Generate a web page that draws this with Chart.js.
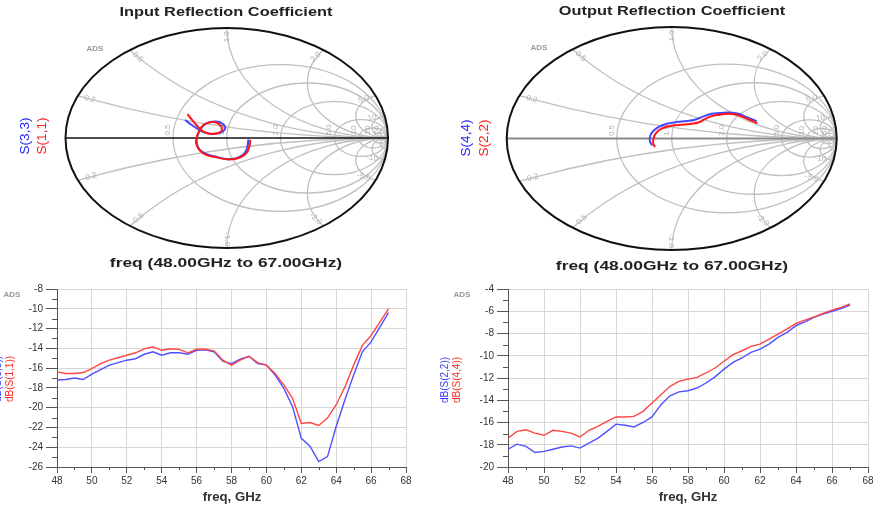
<!DOCTYPE html>
<html><head><meta charset="utf-8">
<script src="https://cdn.jsdelivr.net/npm/chart.js@4.4.0/dist/chart.umd.min.js"></script>
<style>
html,body{margin:0;padding:0;background:#fff;width:878px;height:505px;overflow:hidden;font-family:"Liberation Sans",Arial,sans-serif;}
canvas{position:absolute;}
.t{position:absolute;white-space:nowrap;transform:translate(-50%,-50%);line-height:1;}
.r{transform:translate(-50%,-50%) rotate(-90deg);}
.ttl{font-weight:bold;font-size:12.5px;color:#222;transform:translate(-50%,-50%) scaleX(1.31);}
.sub{font-weight:bold;font-size:13px;color:#222;transform:translate(-50%,-50%) scaleX(1.34);}
.ax{font-size:12px;font-weight:bold;color:#333;transform:translate(-50%,-50%) scaleX(1.1);}
.ads{font-size:8px;font-weight:bold;color:#9a9a9a;}
</style></head><body>
<canvas id="s1" width="440" height="280" style="left:0;top:0"></canvas>
<canvas id="s2" width="438" height="280" style="left:440px;top:0"></canvas>
<canvas id="p1" width="440" height="225" style="left:0;top:280px"></canvas>
<canvas id="p2" width="438" height="225" style="left:440px;top:280px"></canvas>

<div class="t ttl" style="left:226px;top:12px">Input Reflection Coefficient</div>
<div class="t ttl" style="left:672px;top:11px">Output Reflection Coefficient</div>
<div class="t sub" style="left:226px;top:262px">freq (48.00GHz to 67.00GHz)</div>
<div class="t sub" style="left:672px;top:265px">freq (48.00GHz to 67.00GHz)</div>
<div class="t r" style="left:25px;top:136px;font-size:13.5px;color:#2222ff">S(3,3)</div>
<div class="t r" style="left:42px;top:136px;font-size:13.5px;color:#ff1a1a">S(1,1)</div>
<div class="t r" style="left:466px;top:138px;font-size:13.5px;color:#2222ff">S(4,4)</div>
<div class="t r" style="left:484px;top:138px;font-size:13.5px;color:#ff1a1a">S(2,2)</div>
<div class="t r" style="left:-2px;top:379px;font-size:10px;color:#3a3aff">dB(S(3,3))</div>
<div class="t r" style="left:10px;top:379px;font-size:10px;color:#ff2a2a">dB(S(1,1))</div>
<div class="t r" style="left:445px;top:380px;font-size:10px;color:#3a3aff">dB(S(2,2))</div>
<div class="t r" style="left:457px;top:380px;font-size:10px;color:#ff2a2a">dB(S(4,4))</div>
<div class="t ax" style="left:232px;top:497px">freq, GHz</div>
<div class="t ax" style="left:688px;top:497px">freq, GHz</div>
<div class="t ads" style="left:95px;top:49px">ADS</div>
<div class="t ads" style="left:539px;top:48px">ADS</div>
<div class="t ads" style="left:12px;top:295px">ADS</div>
<div class="t ads" style="left:462px;top:295px">ADS</div>

<script>
// ---------------- data ----------------
const freq = [48,48.5,49,49.5,50,50.5,51,51.5,52,52.5,53,53.5,54,54.5,55,55.5,56,56.5,57,57.5,58,58.5,59,59.5,60,60.5,61,61.5,62,62.5,63,63.5,64,64.5,65,65.5,66,66.5,67];
const s11dB = [-16.38,-16.55,-16.55,-16.45,-16.05,-15.55,-15.2,-14.95,-14.7,-14.45,-14.05,-13.85,-14.2,-14.05,-14.1,-14.45,-14.1,-14.1,-14.25,-15.2,-15.7,-15.2,-14.8,-15.45,-15.7,-16.55,-17.7,-19.05,-21.6,-21.5,-21.8,-21.05,-19.7,-17.9,-15.7,-13.7,-12.7,-11.35,-10.0];
const s33dB = [-17.2,-17.15,-17.0,-17.15,-16.6,-16.15,-15.7,-15.45,-15.2,-15.05,-14.6,-14.35,-14.7,-14.45,-14.45,-14.6,-14.2,-14.15,-14.35,-15.3,-15.55,-15.1,-14.8,-15.55,-15.7,-16.7,-18.05,-19.9,-23.1,-23.9,-25.45,-24.95,-21.9,-19.2,-16.7,-14.35,-13.35,-11.85,-10.4];
const s44dB = [-17.4,-16.8,-16.65,-16.95,-17.15,-16.7,-16.8,-16.95,-17.3,-16.7,-16.35,-15.9,-15.5,-15.5,-15.45,-15.0,-14.25,-13.5,-12.75,-12.3,-12.1,-11.95,-11.55,-11.1,-10.5,-9.9,-9.55,-9.15,-8.95,-8.5,-8.05,-7.6,-7.1,-6.8,-6.5,-6.2,-5.9,-5.65,-5.35];
const s22dB = [-18.4,-17.95,-18.15,-18.7,-18.6,-18.4,-18.2,-18.1,-18.3,-17.85,-17.4,-16.8,-16.15,-16.25,-16.4,-16.0,-15.5,-14.4,-13.6,-13.25,-13.15,-12.9,-12.45,-11.9,-11.2,-10.6,-10.2,-9.7,-9.4,-8.95,-8.35,-7.9,-7.3,-6.95,-6.55,-6.25,-6.0,-5.75,-5.45];

// Smith chart traces (reflection coefficient, real / imaginary), 48 GHz -> 67 GHz
const s11Re = [0.146,0.140,0.124,0.093,0.051,0.000,-0.062,-0.124,-0.170,-0.190,-0.186,-0.170,-0.145,-0.104,-0.062,-0.035,-0.031,-0.058,-0.104,-0.145,-0.170,-0.197,-0.223,-0.244];
const s11Im = [-0.018,-0.079,-0.133,-0.170,-0.191,-0.194,-0.176,-0.155,-0.109,-0.048,0.012,0.067,0.118,0.142,0.139,0.109,0.067,0.043,0.039,0.058,0.088,0.133,0.179,0.218];
const s33Re = [0.134,0.128,0.113,0.082,0.045,-0.004,-0.066,-0.124,-0.170,-0.186,-0.182,-0.166,-0.141,-0.104,-0.052,-0.017,-0.011,-0.042,-0.093,-0.141,-0.176,-0.217,-0.259];
const s33Im = [-0.012,-0.079,-0.133,-0.170,-0.188,-0.191,-0.170,-0.148,-0.103,-0.042,0.018,0.073,0.118,0.145,0.148,0.118,0.079,0.048,0.036,0.052,0.079,0.118,0.164];
const s22Re = [-0.101,-0.112,-0.109,-0.095,-0.067,-0.021,0.030,0.081,0.121,0.161,0.202,0.242,0.293,0.343,0.384,0.424,0.470,0.519];
const s22Im = [-0.078,-0.042,0.006,0.048,0.084,0.108,0.120,0.126,0.132,0.144,0.174,0.201,0.213,0.222,0.216,0.198,0.168,0.138];
const s44Re = [-0.118,-0.132,-0.130,-0.115,-0.081,-0.030,0.030,0.091,0.141,0.192,0.242,0.293,0.353,0.404,0.455,0.515];
const s44Im = [-0.063,-0.024,0.024,0.063,0.102,0.132,0.147,0.156,0.168,0.198,0.222,0.228,0.234,0.222,0.192,0.156];

// Smith grid values
const R_CIRCLES = [0.5,1,2,5,10,20,50];
const R_LABELS = ["0.5","1.0","2.0","5.0","10","20","50"];
const X_ARCS = [0.2,0.5,1,2,5,10,20,50];
const X_LABEL_VALUES = [0.2,0.5,1,2,5,10];
const X_LABELS = ["0.2","0.5","1.0","2.0","5.0","10"];

const FONT = '"Liberation Sans", Arial, sans-serif';
const RED = 'rgb(255,20,20)', BLUE = 'rgb(70,70,255)';
const RED2 = 'rgb(255,70,70)', BLUE2 = 'rgb(80,80,255)';

// ---------------- Smith grid plugin ----------------
const smithPlugin = {
  id: 'smith',
  beforeDatasetsDraw(chart, args, opts) {
    const {ctx, scales: {x, y}} = chart;
    const cx = x.getPixelForValue(0), cy = y.getPixelForValue(0);
    const sx = x.getPixelForValue(1) - cx, sy = cy - y.getPixelForValue(1);
    const TAU = Math.PI * 2;
    ctx.save();
    ctx.beginPath(); ctx.ellipse(cx, cy, sx, sy, 0, 0, TAU); ctx.clip();
    ctx.strokeStyle = '#c0c0c0'; ctx.lineWidth = 1.3;
    R_CIRCLES.forEach(r => {
      ctx.beginPath();
      ctx.ellipse(cx + sx * r / (1 + r), cy, sx / (1 + r), sy / (1 + r), 0, 0, TAU);
      ctx.stroke();
    });
    X_ARCS.forEach(v => {
      [1, -1].forEach(s => {
        ctx.beginPath();
        ctx.ellipse(cx + sx, cy - s * sy / v, sx / v, sy / v, 0, 0, TAU);
        ctx.stroke();
      });
    });
    ctx.restore();
    // real axis
    ctx.save();
    ctx.strokeStyle = opts.axisColor; ctx.lineWidth = opts.axisWidth;
    ctx.beginPath(); ctx.moveTo(cx - sx, cy); ctx.lineTo(cx + sx, cy); ctx.stroke();
    // labels
    ctx.fillStyle = '#b0b0b0'; ctx.font = '8px ' + FONT;
    ctx.textAlign = 'center'; ctx.textBaseline = 'middle';
    R_CIRCLES.forEach((r, i) => {
      const px = x.getPixelForValue((r - 1) / (r + 1));
      ctx.save(); ctx.translate(px - 5, cy - 8); ctx.rotate(-Math.PI / 2);
      ctx.fillText(R_LABELS[i], 0, 0); ctx.restore();
    });
    X_LABEL_VALUES.forEach((v, i) => {
      [1, -1].forEach(s => {
        const gr = (v * v - 1) / (v * v + 1), gi = s * 2 * v / (v * v + 1);
        const px = x.getPixelForValue(gr * 0.92), py = y.getPixelForValue(gi * 0.92);
        let a = Math.atan2(py - cy, px - cx);
        if (a > Math.PI / 2) a -= Math.PI;
        if (a < -Math.PI / 2) a += Math.PI;
        ctx.save(); ctx.translate(px, py); ctx.rotate(a);
        ctx.fillText((s < 0 ? '-' : '') + X_LABELS[i], 0, 0); ctx.restore();
      });
    });
    ctx.restore();
  },
  afterDatasetsDraw(chart) {
    const {ctx, scales: {x, y}} = chart;
    const cx = x.getPixelForValue(0), cy = y.getPixelForValue(0);
    const sx = x.getPixelForValue(1) - cx, sy = cy - y.getPixelForValue(1);
    ctx.save();
    ctx.strokeStyle = '#111'; ctx.lineWidth = 2;
    ctx.beginPath(); ctx.ellipse(cx, cy, sx, sy, 0, 0, Math.PI * 2); ctx.stroke();
    ctx.restore();
  }
};

function pts(a, b) { return a.map((v, i) => ({x: v, y: b[i]})); }

function smithChart(id, pad, datasets, axisColor, axisWidth) {
  return new Chart(document.getElementById(id), {
    type: 'scatter',
    data: {datasets},
    options: {
      responsive: false, animation: false,
      layout: {padding: pad},
      scales: {
        x: {type: 'linear', min: -1, max: 1, display: false},
        y: {type: 'linear', min: -1, max: 1, display: false}
      },
      plugins: {legend: {display: false}, tooltip: {enabled: false}, smith: {axisColor, axisWidth}}
    },
    plugins: [smithPlugin]
  });
}

function trace(re, im, color) {
  return {data: pts(re, im), showLine: true, borderColor: color, borderWidth: 2, pointRadius: 0, tension: 0.4, fill: false};
}

smithChart('s1', {left: 65.5, right: 52, top: 28, bottom: 32},
  [trace(s11Re, s11Im, RED), trace(s33Re, s33Im, BLUE)], '#111', 1.5);
smithChart('s2', {left: 66.7, right: 41.3, top: 27, bottom: 30},
  [trace(s22Re, s22Im, RED), trace(s44Re, s44Im, BLUE)], '#8a8a8a', 2);

// ---------------- rectangular plots ----------------
const minorPlugin = {
  id: 'minor',
  afterDraw(chart) {
    const {ctx, scales: {x, y}, chartArea: a} = chart;
    ctx.save(); ctx.strokeStyle = '#555'; ctx.lineWidth = 1;
    ctx.beginPath();
    for (let v = x.min + 1; v < x.max; v += 2) {
      const px = Math.round(x.getPixelForValue(v)) + 0.5;
      ctx.moveTo(px, a.bottom); ctx.lineTo(px, a.bottom + 3);
    }
    for (let v = y.min + 1; v < y.max; v += 2) {
      const py = Math.round(y.getPixelForValue(v)) + 0.5;
      ctx.moveTo(a.left - 5, py); ctx.lineTo(a.left, py);
    }
    ctx.stroke(); ctx.restore();
  }
};

function dbChart(id, yMin, yMax, yWidth, pad, datasets) {
  const tickFont = {size: 10, family: FONT};
  return new Chart(document.getElementById(id), {
    type: 'scatter',
    data: {datasets},
    options: {
      responsive: false, animation: false,
      layout: {padding: pad},
      scales: {
        x: {
          type: 'linear', min: 48, max: 68,
          afterFit(s) { s.height = 38; },
          ticks: {stepSize: 2, autoSkip: false, maxRotation: 0, font: tickFont, color: '#333', padding: 2},
          grid: {color: '#d6d6d6', tickColor: '#555', tickLength: 6, lineWidth: 1},
          border: {color: '#555', width: 1}
        },
        y: {
          type: 'linear', min: yMin, max: yMax,
          afterFit(s) { s.width = yWidth; },
          ticks: {stepSize: 2, autoSkip: false, font: tickFont, color: '#333', padding: 3},
          grid: {color: '#d6d6d6', tickColor: '#555', tickLength: 11, lineWidth: 1},
          border: {color: '#555', width: 1}
        }
      },
      plugins: {legend: {display: false}, tooltip: {enabled: false}}
    },
    plugins: [minorPlugin]
  });
}

function line(vals, color) {
  return {data: pts(freq, vals), showLine: true, borderColor: color, borderWidth: 1.4, pointRadius: 0, tension: 0, fill: false};
}

dbChart('p1', -26, -8, 57, {left: 0, right: 34, top: 8, bottom: 0},
  [line(s11dB, RED2), line(s33dB, BLUE2)]);
dbChart('p2', -20, -4, 68, {left: 0, right: 10, top: 9, bottom: 0},
  [line(s44dB, RED2), line(s22dB, BLUE2)]);
</script>
</body></html>
